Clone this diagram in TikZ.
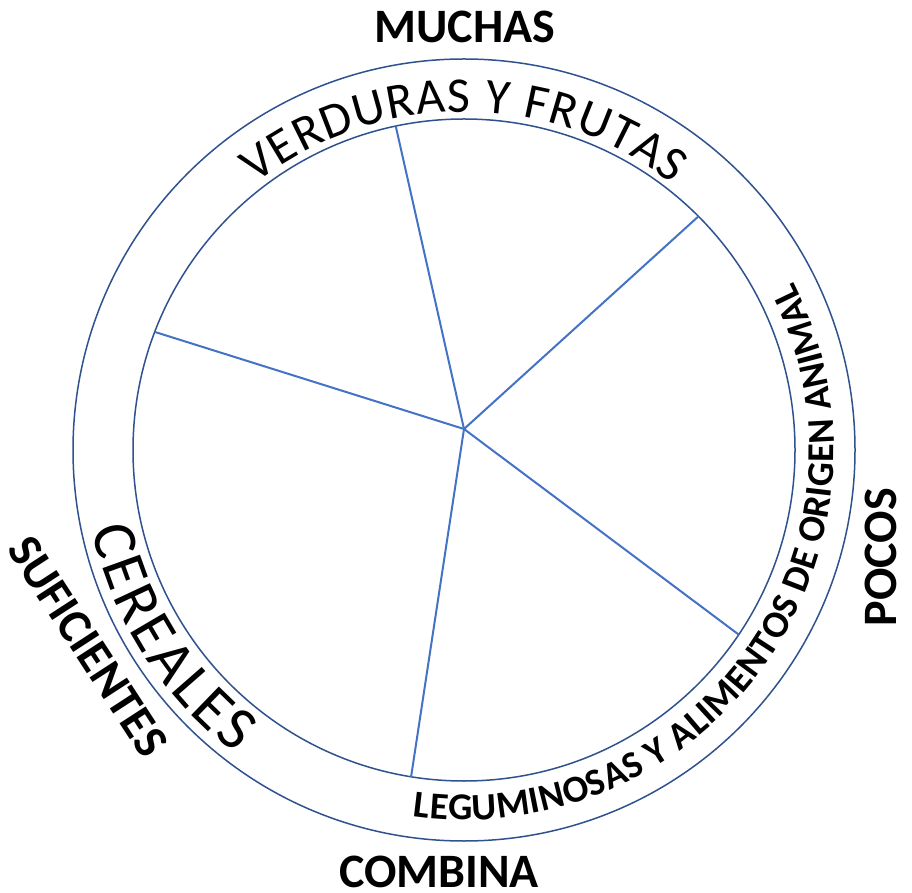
\documentclass[tikz,border=0pt]{standalone}
\usepackage{fontspec}
\setmainfont{Carlito}
\usetikzlibrary{decorations.text}
\definecolor{ringblue}{RGB}{47,82,143}
\definecolor{spokeblue}{RGB}{68,114,196}
\begin{document}
\begin{tikzpicture}[x=1pt,y=1pt,
  ring/.style={draw=ringblue, line width=1.5pt},
  spoke/.style={draw=spokeblue, line width=2pt},
  outerlabel/.style={font=\fontsize{48}{48}\selectfont\bfseries, inner sep=0pt},
  arctext/.style={decorate, decoration={text along path, text align=fit to path, text={#1}}}
]
\useasboundingbox (0,0) rectangle (912,892);
\fill[white] (0,0) rectangle (912,892);
\coordinate (C) at (464,442);
\draw[ring] (C) circle[radius=391];
\draw[ring] (C) circle[radius=331];
\coordinate (J) at (464,463);
\path (C) ++(101.9:331) coordinate (e1);
\path (C) ++(44.9:331) coordinate (e2);
\path (C) ++(-33.9:331) coordinate (e3);
\path (C) ++(-99.2:331) coordinate (e4);
\path (C) ++(159.1:331) coordinate (e5);
\foreach \e in {e1,e2,e3,e4,e5} \draw[spoke] (J) -- (\e);
% curved texts
\path[arctext={|\fontsize{50}{50}\selectfont|VERDURAS Y FRUTAS}]
  (C) ++(128:338) arc[start angle=128, end angle=52, radius=338];
\path[arctext={|\fontsize{62}{62}\selectfont|CEREALES}]
  (C) ++(192:380) arc[start angle=192, end angle=233, radius=380];
\path[arctext={|\fontsize{38}{38}\selectfont\bfseries|LEGUMINOSAS Y ALIMENTOS DE ORIGEN ANIMAL}]
  (C) ++(-98:370) arc[start angle=-98, end angle=27, radius=370];
% outer labels
\node[outerlabel] (muchas) at (465,865) {MUCHAS};
\node[outerlabel] (combina) at (439,20) {COMBINA};
\node[outerlabel, rotate=90] (pocos) at (881,335) {POCOS};
\node[outerlabel, rotate=-57] (suf) at (88,246) {SUFICIENTES};
\end{tikzpicture}
\end{document}
